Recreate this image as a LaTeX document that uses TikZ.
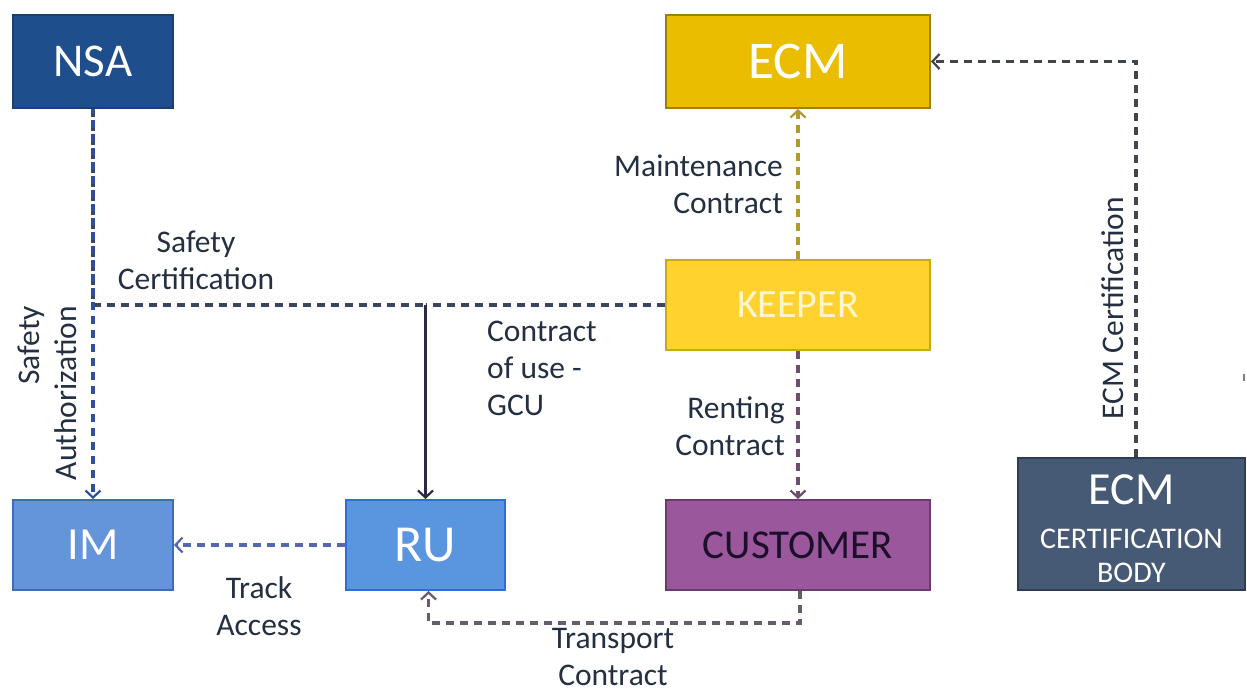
\documentclass[tikz,border=0pt]{standalone}
\usepackage{fontspec}
\setmainfont{Carlito}
\usetikzlibrary{arrows.meta}

\definecolor{nsablue}{HTML}{1F4E8C}
\definecolor{nsaedge}{HTML}{1A3F73}
\definecolor{ecmgold}{HTML}{EBBD00}
\definecolor{ecmedge}{HTML}{9C8400}
\definecolor{keepery}{HTML}{FFD22E}
\definecolor{keeperedge}{HTML}{C9A81C}
\definecolor{keepertext}{HTML}{FFF6CC}
\definecolor{imblue}{HTML}{6495DB}
\definecolor{imedge}{HTML}{3D6EB5}
\definecolor{rublue}{HTML}{5A95E0}
\definecolor{ruedge}{HTML}{2F6FD3}
\definecolor{custpurple}{HTML}{9A579C}
\definecolor{custedge}{HTML}{6B3A6E}
\definecolor{custtext}{HTML}{1C0F2A}
\definecolor{bodyslate}{HTML}{475A75}
\definecolor{bodyedge}{HTML}{2F3D52}
\definecolor{labc}{HTML}{243042}
\definecolor{lnsa}{HTML}{2E4F9A}
\definecolor{lauth}{HTML}{4A5D9A}
\definecolor{lcert}{HTML}{3C4560}
\definecolor{lgcu}{HTML}{2A2A40}
\definecolor{lmaint}{HTML}{B09A2A}
\definecolor{lrent}{HTML}{6D4E6E}
\definecolor{ltrans}{HTML}{6A5A6E}
\definecolor{ltrack}{HTML}{5468B0}
\definecolor{lecmc}{HTML}{404450}

\begin{document}
\begin{tikzpicture}[x=1pt,y=-1pt,
  box/.style={rectangle, line width=2pt, inner sep=0pt, anchor=center},
  lab/.style={text=labc, inner sep=0pt, font=\fontsize{31.5}{37}\selectfont},
  dashline/.style={line width=3.1pt, dash pattern=on 8pt off 6pt},
  tip/.style={-{Straight Barb[length=7pt,width=15pt,line width=2.2pt]}}
]
\useasboundingbox[fill=white] (0,0) rectangle (1247,691);

% organisation boxes
\node[box, fill=nsablue, draw=nsaedge, minimum width=160pt, minimum height=93pt,
      text=white, font=\fontsize{47}{50}\selectfont] (nsa) at (93,61.5) {NSA};
\node[box, fill=ecmgold, draw=ecmedge, minimum width=264pt, minimum height=93pt,
      text=white, font=\fontsize{53}{56}\selectfont] (ecm) at (798,61.5) {ECM};
\node[box, fill=keepery, draw=keeperedge, minimum width=264pt, minimum height=90pt,
      text=keepertext, font=\fontsize{40}{44}\selectfont] (keeper) at (798,305) {KEEPER};
\node[box, fill=imblue, draw=imedge, minimum width=160pt, minimum height=90pt,
      text=white, font=\fontsize{46}{50}\selectfont] (im) at (93,545) {IM};
\node[box, fill=rublue, draw=ruedge, minimum width=159pt, minimum height=90pt,
      text=white, font=\fontsize{52}{56}\selectfont] (ru) at (425.5,545) {RU};
\node[box, fill=custpurple, draw=custedge, minimum width=264pt, minimum height=90pt,
      text=custtext, font=\fontsize{41}{44}\selectfont] (cust) at (798,545) {CUSTOMER};
\node[box, fill=bodyslate, draw=bodyedge, minimum width=227pt, minimum height=132pt] (cb) at (1131.5,524) {};
\node[text=white, inner sep=0pt, font=\fontsize{46}{50}\selectfont] (cbtop) at (1131.5,490) {ECM};
\node[text=white, inner sep=0pt, font=\fontsize{30}{34}\selectfont] (cbmid) at (1131.5,539) {CERTIFICATION};
\node[text=white, inner sep=0pt, font=\fontsize{30}{34}\selectfont] (cbbot) at (1131.5,573) {BODY};

% junction above the RU box
\coordinate (j) at (425.5,305);

% NSA: safety certification and safety authorization
\draw[dashline, lcert] (nsa.south) |- (j);
\draw[dashline, lnsa, dash phase=3pt, tip] (nsa.south) -- (im.north);
% keeper: contract of use
\draw[dashline, lcert] (keeper.west) -- (j);
\draw[line width=2.8pt, lgcu, tip] (j) -- (ru.north);
% keeper: maintenance and renting contracts
\draw[dashline, lmaint, tip] (keeper.north) -- (ecm.south);
\draw[dashline, lrent, tip] (keeper.south) -- (cust.north);
% customer: transport contract
\draw[dashline, ltrans, tip] ([xshift=2pt]cust.south) -- ++(0,32) -| ([xshift=3pt]ru.south);
% RU: track access
\draw[dashline, ltrack, tip] (ru.west) -- (im.east);
% certification body: ECM certification
\draw[dashline, lecmc, tip] ([xshift=4.5pt]cb.north) |- (ecm.east);

% connector labels
\node[lab, align=center] (lsc) at (196,260) {Safety\\Certification};
\node[lab, align=right, rotate=90] (lsa) at (47,393) {Safety\\Authorization};
\node[lab, align=right, anchor=east] (lmc) at (783,184) {Maintenance\\Contract};
\node[lab, align=left, anchor=west] (lgcu) at (487,368) {Contract\\of use -\\GCU};
\node[lab, align=right, anchor=east] (lrc) at (785,426) {Renting\\Contract};
\node[lab, align=center] (lta) at (259,606) {Track\\Access};
\node[lab, align=center] (ltc) at (613,657) {Transport\\Contract};
\node[lab, rotate=90] (lec) at (1113,308) {ECM Certification};

% small stray tick at the right edge
\draw[line width=1.8pt, gray] (1244,374) -- (1244,381);
\end{tikzpicture}
\end{document}
